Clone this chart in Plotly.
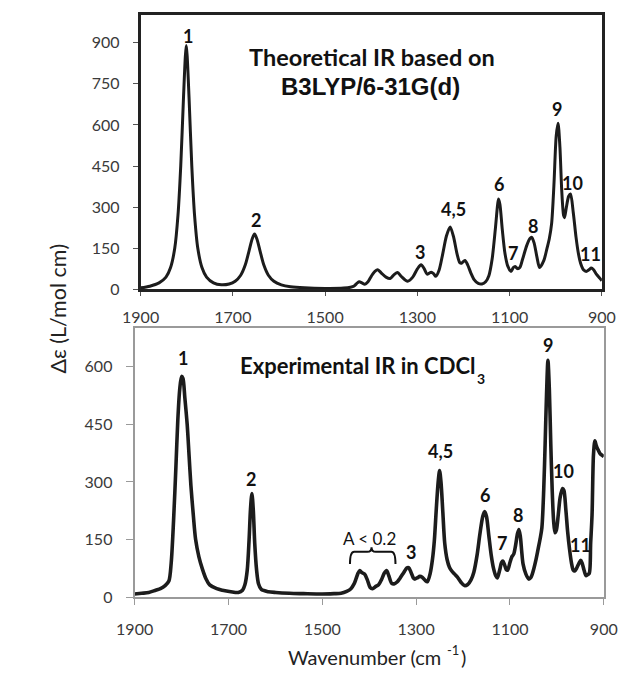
import plotly.graph_objects as go

W, H = 632, 691

# ---- Theoretical spectrum (B3LYP/6-31G(d)) ----
theo_wn = [1900, 1880, 1860, 1845, 1835, 1826, 1819, 1813, 1807, 1803, 1801, 1799, 1795,
           1789, 1783, 1776, 1767, 1757, 1742, 1725, 1708, 1695, 1683, 1673, 1665, 1658,
           1653, 1648, 1641, 1633, 1623, 1611, 1595, 1575, 1545, 1500, 1460, 1445, 1437,
           1430, 1426, 1420, 1414, 1407, 1400, 1392, 1386, 1378, 1368, 1359, 1350, 1343,
           1335, 1321, 1310, 1300, 1292, 1285, 1279, 1274, 1270, 1265, 1260, 1253, 1245,
           1237, 1229, 1222, 1214, 1208, 1204, 1197, 1191, 1184, 1177, 1168, 1160, 1152,
           1145, 1138, 1131, 1126, 1124, 1121, 1116, 1110, 1104, 1097, 1092, 1088, 1083,
           1078, 1072, 1063, 1056, 1052, 1047, 1041, 1035, 1026, 1019, 1014, 1009, 1004,
           999, 995, 991, 987, 983, 981, 977, 972, 968, 962, 956, 951, 946, 940, 934, 928,
           923, 918, 912, 906, 902, 900]
theo_val = [6, 12, 24, 45, 80, 150, 270, 450, 700, 850, 890, 850, 700,
            450, 270, 150, 80, 45, 24, 17, 20, 30, 52, 90, 140, 185,
            202, 185, 140, 90, 52, 30, 17, 10, 6, 4, 5, 8, 13,
            24, 28, 24, 19, 28, 48, 66, 72, 60, 45, 40, 55, 62,
            48, 30, 45, 75, 90, 75, 56, 60, 63, 58, 48, 70, 130,
            195, 228, 195, 130, 98, 96, 106, 90, 60, 36, 22, 20, 28,
            50, 110, 220, 310, 330, 310, 220, 130, 85, 66, 80, 84, 76,
            80, 110, 160, 186, 190, 170, 120, 80, 105, 150, 185, 240, 380,
            560, 606, 520, 360, 270, 262, 300, 340, 348, 280, 190, 132, 95, 72, 66, 72,
            78, 72, 56, 44, 36, 32]

# ---- Experimental spectrum (CDCl3) ----
exp_wn = [1900, 1885, 1870, 1855, 1845, 1835, 1827, 1822, 1817, 1812, 1808, 1804, 1800,
          1797, 1793, 1788, 1784, 1780, 1775, 1770, 1763, 1756, 1748, 1740, 1725, 1713,
          1695, 1679, 1670, 1665, 1660, 1656, 1653, 1650, 1647, 1644, 1640, 1636, 1630,
          1615, 1599, 1570, 1540, 1500, 1475, 1460, 1448, 1439, 1432, 1428, 1424, 1420,
          1416, 1410, 1404, 1398, 1393, 1386, 1380, 1374, 1368, 1363, 1358, 1352, 1346,
          1340, 1335, 1326, 1320, 1316, 1311, 1306, 1303, 1298, 1292, 1287, 1281, 1276,
          1270, 1265, 1261, 1257, 1253, 1250, 1247, 1243, 1239, 1234, 1229, 1224, 1218,
          1212, 1204, 1197, 1190, 1183, 1177, 1170, 1164, 1158, 1154, 1150, 1145, 1140,
          1135, 1130, 1127, 1122, 1118, 1115, 1112, 1108, 1105, 1100, 1096, 1092, 1088,
          1084, 1081, 1078, 1075, 1072, 1066, 1060, 1055, 1050, 1045, 1040, 1036, 1032,
          1028, 1025, 1022, 1019, 1016, 1013, 1010, 1007, 1004, 1001, 997, 993, 988, 985,
          981, 977, 973, 969, 965, 962, 958, 953, 949, 946, 942, 938, 935, 931, 928, 925,
          922, 919, 916, 913, 908, 904, 900]
exp_val = [8, 10, 12, 18, 22, 30, 42, 90, 200, 340, 460, 540, 575,
           570, 520, 450, 370, 290, 215, 150, 105, 75, 48, 32, 22, 18,
           14, 12, 18, 32, 70, 150, 230, 270, 225, 140, 70, 35, 20,
           14, 12, 10, 9, 8, 9, 10, 15, 22, 35, 48, 62, 69,
           64, 60, 45, 25, 22, 28, 32, 45, 62, 69, 55, 36, 35,
           40, 48, 65, 76, 77, 65, 50, 47, 50, 54, 52, 44, 40,
           62, 100, 150, 230, 300, 330, 300, 220, 140, 98, 78, 68, 60,
           52, 38, 30, 33, 45, 65, 110, 165, 210, 223, 210, 160, 110,
           75, 55, 50, 70, 90, 94, 86, 72, 70, 90, 105, 112, 135,
           165, 176, 160, 120, 86, 60, 47, 52, 70, 95, 125, 150, 180,
           280, 400, 530, 617, 540, 400, 280, 200, 168, 175, 215, 260, 283, 278,
           230, 170, 125, 90, 70, 68, 75, 88, 96, 88, 70, 56, 58, 62, 140, 214,
           370, 407, 395, 386, 374, 370, 366]

# ---- Peak labels ----
theo_lbl = ["1", "2", "3", "4,5", "6", "7", "8", "9", "10", "11"]
theo_lbl_wn = [1797, 1650, 1294, 1222, 1124, 1093, 1049, 998, 963, 925]
theo_lbl_y = [926, 254, 138, 292, 384, 132, 230, 660, 390, 128]

exp_lbl = ["1", "2", "3", "4,5", "6", "7", "8", "9", "10", "11"]
exp_lbl_wn = [1796, 1651, 1311, 1249, 1153, 1118, 1082, 1019, 986, 949]
exp_lbl_y = [623, 309, 117, 380, 266, 141, 214, 656, 328, 135]

x_ticks = [1900, 1700, 1500, 1300, 1100, 900]
theo_y_ticks = [0, 150, 300, 450, 600, 750, 900]
exp_y_ticks = [0, 150, 300, 450, 600]

# weak-band bracket (A < 0.2)
brace_left, brace_right, brace_mid = 1441, 1344, 1395
brace_foot, brace_arm, brace_tip = 86, 118, 130


def px_x(p):
    return p / W


def px_y(p):
    return 1 - p / H


TICK_FONT = dict(family="Lato", size=16, color="#3a3a3a")
LBL_FONT = dict(family="Lato", size=18, color="#111111")
LINE = "#1c1c1c"

fig = go.Figure()
fig.add_trace(go.Scatter(x=theo_wn, y=theo_val, mode="lines", xaxis="x", yaxis="y",
                         line=dict(color=LINE, width=3, shape="spline", smoothing=0.8),
                         hoverinfo="skip", showlegend=False))
fig.add_trace(go.Scatter(x=exp_wn, y=exp_val, mode="lines", xaxis="x2", yaxis="y2",
                         line=dict(color=LINE, width=3.6, shape="spline", smoothing=0.8),
                         hoverinfo="skip", showlegend=False))

axis_common = dict(showgrid=False, zeroline=False, mirror=True, ticks="outside",
                   tickfont=TICK_FONT, showline=True)

fig.update_layout(
    width=W, height=H, margin=dict(l=0, r=0, t=0, b=0),
    paper_bgcolor="white", plot_bgcolor="white",
    xaxis=dict(domain=[px_x(128.3), px_x(615)], range=[1900, 900], tickvals=x_ticks,
               anchor="y", linecolor="#222", linewidth=2.5, tickcolor="#555", ticklen=4,
               ticklabelstandoff=8, **axis_common),
    yaxis=dict(domain=[px_y(293.3), px_y(15.5)], range=[0, 1000], tickvals=theo_y_ticks,
               anchor="x", linecolor="#222", linewidth=2.5, tickcolor="#555", ticklen=5,
               ticklabelstandoff=10, **axis_common),
    xaxis2=dict(domain=[px_x(122), px_x(617)], range=[1900, 900], tickvals=x_ticks,
                anchor="y2", linecolor="#9a9a9a", linewidth=2, tickcolor="#9a9a9a", ticklen=6,
                ticklabelstandoff=11, **axis_common),
    yaxis2=dict(domain=[px_y(605), px_y(332.8)], range=[0, 700], tickvals=exp_y_ticks,
                anchor="x2", linecolor="#9a9a9a", linewidth=2, tickcolor="#9a9a9a", ticklen=7,
                ticklabelstandoff=10, **axis_common),
)

ann = []
for t, xv, yv in zip(theo_lbl, theo_lbl_wn, theo_lbl_y):
    ann.append(dict(text="<b>%s</b>" % t, x=xv, y=yv, xref="x", yref="y",
                    showarrow=False, font=LBL_FONT))
for t, xv, yv in zip(exp_lbl, exp_lbl_wn, exp_lbl_y):
    ann.append(dict(text="<b>%s</b>" % t, x=xv, y=yv, xref="x2", yref="y2",
                    showarrow=False, font=LBL_FONT))

ann.append(dict(text="A &lt; 0.2", x=1399, y=152, xref="x2", yref="y2", showarrow=False,
                font=dict(family="Lato", size=17, color="#111111")))

# panel titles
ann.append(dict(text="<b>Theoretical IR based on</b>", x=px_x(372), y=px_y(42),
                xref="paper", yref="paper", showarrow=False,
                font=dict(family="Lato", size=23.5, color="#111111")))
ann.append(dict(text="<b>B3LYP/6-31G(d)</b>", x=px_x(371), y=px_y(72),
                xref="paper", yref="paper", showarrow=False,
                font=dict(family="Liberation Sans", size=24, color="#111111")))
ann.append(dict(text="<b>Experimental IR in CDCl</b>", x=px_x(483), y=px_y(370),
                xanchor="right", xref="paper", yref="paper", showarrow=False,
                font=dict(family="Lato", size=22, color="#111111")))
ann.append(dict(text="<b>3</b>", x=px_x(494), y=px_y(384),
                xref="paper", yref="paper", showarrow=False,
                font=dict(family="Lato", size=14, color="#111111")))

# axis titles
ann.append(dict(text="\u0394\u03b5 (L/mol cm)", x=px_x(25), y=px_y(313), textangle=-90,
                xref="paper", yref="paper", showarrow=False,
                font=dict(family="Lato", size=21.5, color="#222222")))
ann.append(dict(text="Wavenumber (cm", x=px_x(447), y=px_y(680), xanchor="right",
                xref="paper", yref="paper", showarrow=False,
                font=dict(family="Lato", size=20, color="#222222")))
ann.append(dict(text=")", x=px_x(474), y=px_y(680),
                xref="paper", yref="paper", showarrow=False,
                font=dict(family="Lato", size=20, color="#222222")))
ann.append(dict(text="-1", x=px_x(466), y=px_y(669),
                xref="paper", yref="paper", showarrow=False,
                font=dict(family="Lato", size=13, color="#222222")))
fig.update_layout(annotations=ann)

# curly bracket over the weak bands
d = 9
brace_path = (
    f"M {brace_left},{brace_foot} Q {brace_left},{brace_arm} {brace_left - d},{brace_arm} "
    f"L {brace_mid + d},{brace_arm} Q {brace_mid},{brace_arm} {brace_mid},{brace_tip} "
    f"Q {brace_mid},{brace_arm} {brace_mid - d},{brace_arm} "
    f"L {brace_right + d},{brace_arm} Q {brace_right},{brace_arm} {brace_right},{brace_foot}"
)
fig.add_shape(type="path", path=brace_path, xref="x2", yref="y2",
              line=dict(color="#111111", width=2))

fig.write_html("out.html")
